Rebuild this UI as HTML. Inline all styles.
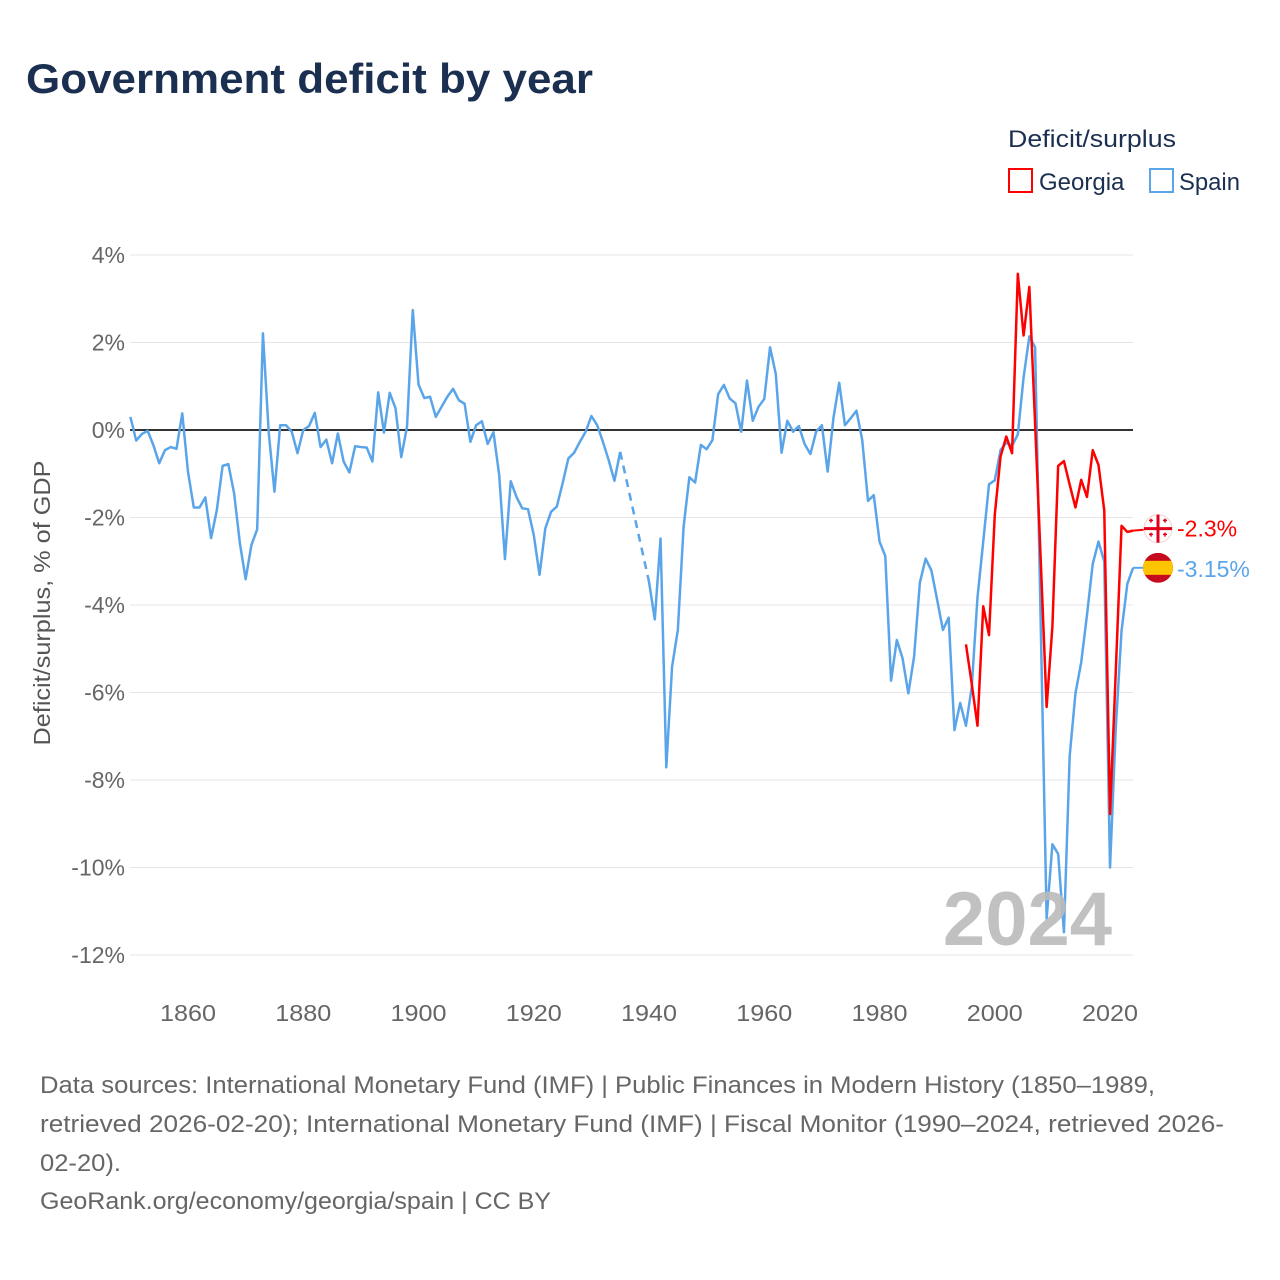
<!DOCTYPE html>
<html><head><meta charset="utf-8">
<style>
body{margin:0;background:#fff;font-family:"Liberation Sans",sans-serif;}
#wrap{position:relative;width:1280px;height:1280px;overflow:hidden;}
svg text{font-family:"Liberation Sans",sans-serif;}
</style></head>
<body>
<div id="wrap">
<svg id="chart" width="1280" height="1280">
<text x="26" y="93" font-size="42" font-weight="bold" fill="#1b2f50" textLength="567" lengthAdjust="spacingAndGlyphs">Government deficit by year</text>
<text x="1008" y="147" font-size="24" fill="#1b2f50" textLength="168" lengthAdjust="spacingAndGlyphs">Deficit/surplus</text>
<g>
<rect x="1009" y="169" width="23" height="23" fill="#fff" stroke="#f00" stroke-width="2"/>
<text x="1039" y="190" font-size="24" fill="#1b2f50">Georgia</text></g>
<g>
<rect x="1150" y="169" width="23" height="23" fill="#fff" stroke="#5aa5ea" stroke-width="2"/>
<text x="1179" y="190" font-size="24" fill="#1b2f50" textLength="61" lengthAdjust="spacingAndGlyphs">Spain</text></g>
<text transform="translate(50,603) rotate(-90)" text-anchor="middle" font-size="23" fill="#555" textLength="285" lengthAdjust="spacingAndGlyphs">Deficit/surplus, % of GDP</text>
<g id="grid"></g><g id="series"></g>
<text x="1112" y="945" text-anchor="end" font-size="76" font-weight="bold" fill="#bbb" opacity="0.9">2024</text>
<g id="labels"></g>
<g font-size="24" fill="#666">
<text x="40" y="1093" textLength="1115" lengthAdjust="spacingAndGlyphs">Data sources: International Monetary Fund (IMF) | Public Finances in Modern History (1850–1989,</text>
<text x="40" y="1132" textLength="1184" lengthAdjust="spacingAndGlyphs">retrieved 2026-02-20); International Monetary Fund (IMF) | Fiscal Monitor (1990–2024, retrieved 2026-</text>
<text x="40" y="1171" textLength="81" lengthAdjust="spacingAndGlyphs">02-20).</text>
<text x="40" y="1209" textLength="511" lengthAdjust="spacingAndGlyphs">GeoRank.org/economy/georgia/spain | CC BY</text>
</g>
</svg>
</div>
<script>
const yTicks=[4,2,0,-2,-4,-6,-8,-10,-12];
const xTicks=[1860,1880,1900,1920,1940,1960,1980,2000,2020];
const spainStart=1850;
const spainValues=[0.30,-0.24,-0.09,-0.02,-0.35,-0.76,-0.46,-0.39,-0.43,0.38,
-0.96,-1.77,-1.77,-1.54,-2.47,-1.83,-0.82,-0.78,-1.45,-2.59,
-3.41,-2.63,-2.27,2.21,-0.05,-1.41,0.11,0.11,-0.04,-0.53,
0.0,0.09,0.39,-0.39,-0.22,-0.76,-0.08,-0.72,-0.97,-0.37,
-0.39,-0.40,-0.72,0.86,-0.06,0.85,0.50,-0.62,0.07,2.74,
1.04,0.73,0.76,0.30,0.53,0.76,0.94,0.68,0.60,-0.27,
0.11,0.20,-0.32,-0.05,-1.03,-2.95,-1.17,-1.53,-1.79,-1.81,
-2.40,-3.31,-2.25,-1.87,-1.75,-1.22,-0.65,-0.52,-0.27,-0.04,
0.32,0.11,-0.27,-0.69,-1.16,-0.50,null,null,null,null,
-3.47,-4.33,-2.48,-7.71,-5.41,-4.57,-2.21,-1.08,-1.20,-0.34,
-0.44,-0.23,0.82,1.03,0.72,0.61,-0.04,1.13,0.21,0.53,
0.71,1.89,1.28,-0.52,0.21,-0.04,0.09,-0.32,-0.55,-0.04,
0.11,-0.95,0.27,1.08,0.11,0.27,0.44,-0.23,-1.62,-1.49,
-2.55,-2.88,-5.73,-4.80,-5.22,-6.02,-5.18,-3.49,-2.94,-3.21,
-3.88,-4.57,-4.29,-6.86,-6.24,-6.76,-5.88,-3.83,-2.55,-1.24,
-1.15,-0.46,-0.29,-0.36,-0.10,1.20,2.14,1.89,-4.59,-11.17,
-9.47,-9.69,-11.48,-7.45,-6.02,-5.31,-4.23,-3.06,-2.55,-3.01,
-10.0,-6.8,-4.59,-3.52,-3.15];
const georgiaStart=1995;
const georgiaValues=[-4.90,-5.8,-6.76,-4.03,-4.69,-1.94,-0.61,-0.15,-0.53,3.57,
2.16,3.27,0.14,-3.06,-6.33,-4.49,-0.82,-0.71,-1.25,-1.77,
-1.14,-1.53,-0.46,-0.80,-1.84,-8.78,-5.5,-2.19,-2.33,-2.3];

const X0=130.4,Y0=430,PER=43.75;
const x=yr=>X0+(yr-1850)*(1110-188)/160;
const y=v=>Y0-v*PER;
const NS='http://www.w3.org/2000/svg';
function mk(tag,attrs,parent){const e=document.createElementNS(NS,tag);for(const k in attrs)e.setAttribute(k,attrs[k]);parent.appendChild(e);return e;}
const grid=document.getElementById('grid'),series=document.getElementById('series'),labels=document.getElementById('labels');
yTicks.forEach(t=>{
 const l=mk('line',{x1:130,x2:1133,y1:y(t),y2:y(t),stroke:t===0?'#333':'#e6e6e6','stroke-width':t===0?2:1},grid);
 
 
 const tx=mk('text',{x:125,y:y(t)+8,'text-anchor':'end','font-size':23,fill:'#666'},grid);
 tx.textContent=t+'%';
 
 
});
xTicks.forEach(t=>{
 const tx=mk('text',{x:x(t),y:1021,'text-anchor':'middle','font-size':23,fill:'#666',textLength:56,lengthAdjust:'spacingAndGlyphs'},grid);
 tx.textContent=t;
 
 
});
function drawSeries(start,vals,color,name){
 let segs=[],cur=[];
 vals.forEach((v,i)=>{if(v===null){if(cur.length)segs.push(cur);cur=[];}else cur.push([x(start+i),y(v)]);});
 if(cur.length)segs.push(cur);
 segs.forEach((s,k)=>{
  const p=mk('polyline',{points:s.map(q=>q.join(',')).join(' '),fill:'none',stroke:color,'stroke-width':2.5,'stroke-linejoin':'round'},series);
  
  
  if(k>0){const a=segs[k-1][segs[k-1].length-1],b=s[0];
   const d=mk('line',{x1:a[0],y1:a[1],x2:b[0],y2:b[1],stroke:color,'stroke-width':2.5,'stroke-dasharray':'8,6'},series);
   
   }
 });
}
drawSeries(spainStart,spainValues,'#5aa5ea','spain');
drawSeries(georgiaStart,georgiaValues,'#f00','georgia');
const gLast=georgiaValues[georgiaValues.length-1],sLast=spainValues[spainValues.length-1];
const gy=y(gLast),sy=y(sLast),ex=x(2024);
let l1=mk('line',{x1:ex,y1:gy,x2:1145,y2:gy-1,stroke:'#f00','stroke-width':2},labels);


let l2=mk('line',{x1:ex,y1:sy,x2:1145,y2:sy,stroke:'#5aa5ea','stroke-width':2},labels);


const gf=mk('g',{},labels);


mk('circle',{cx:1158,cy:gy-2,r:14,fill:'#fff',stroke:'#f3d0d0'},gf);
mk('rect',{x:1144,y:gy-3.5,width:28,height:3,fill:'#e0001b'},gf);
mk('rect',{x:1156.5,y:gy-16,width:3,height:28,fill:'#e0001b'},gf);
[[-7,-9],[7,-9],[-7,5],[7,5]].forEach(o=>{mk('rect',{x:1158+o[0]-2,y:gy-2+o[1],width:4,height:1.5,fill:'#e0001b'},gf);mk('rect',{x:1158+o[0]-0.75,y:gy-2+o[1]-1,width:1.5,height:4,fill:'#e0001b'},gf);});
const gt=mk('text',{x:1177,y:gy+6,'font-size':23,fill:'#f00'},labels);
gt.textContent=gLast+'%';


const sf=mk('g',{},labels);


mk('clipPath',{id:'sc'},sf);
mk('circle',{cx:1158,cy:sy,r:15},document.getElementById('sc'));
mk('rect',{x:1143,y:sy-15,width:30,height:30,fill:'#c60b1e','clip-path':'url(#sc)'},sf);
mk('rect',{x:1143,y:sy-7,width:30,height:14,fill:'#ffc400','clip-path':'url(#sc)'},sf);
const st=mk('text',{x:1177,y:sy+9,'font-size':23,fill:'#5aa5ea'},labels);
st.textContent=sLast+'%';


</script>
</body></html>
